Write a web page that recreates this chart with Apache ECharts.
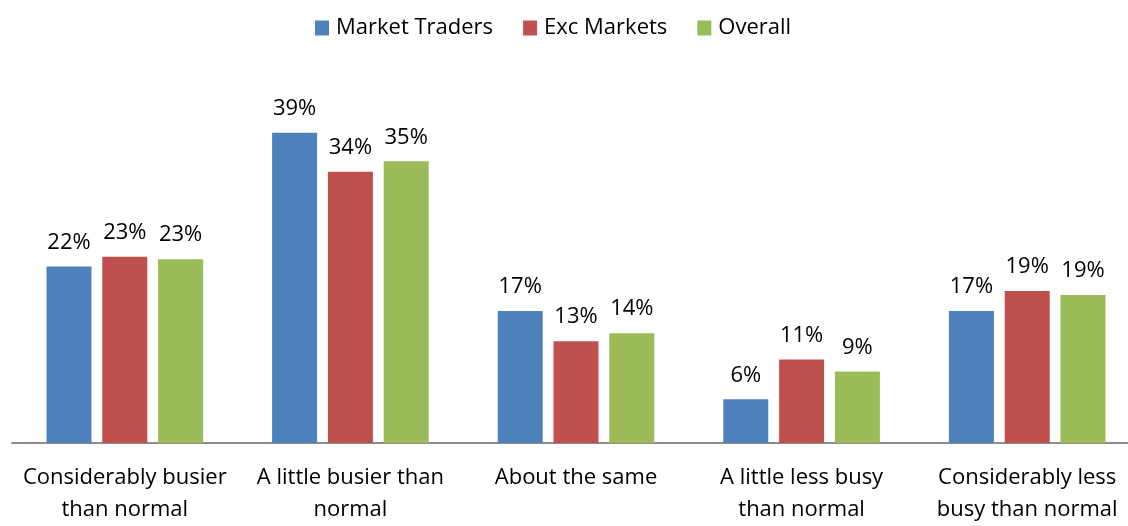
<!DOCTYPE html>
<html><head><meta charset="utf-8">
<script src="https://cdn.jsdelivr.net/npm/echarts@6/dist/echarts.min.js"></script>
<style>html,body{margin:0;padding:0;background:#fff;overflow:hidden;width:1128px;height:526px}#c{width:1140px;height:526px}</style>
</head><body><div id="c"></div>
<script>
const categories = ["Considerably busier\nthan normal", "A little busier than\nnormal", "About the same", "A little less busy\nthan normal", "Considerably less\nbusy than normal"];
const seriesNames = ["Market Traders", "Exc Markets", "Overall"];
const marketTraders = [22.2, 39.0, 16.6, 5.5, 16.6];
const excMarkets = [23.4, 34.1, 12.8, 10.5, 19.1];
const overall = [23.1, 35.4, 13.8, 9.0, 18.6];
const colors = ["#4F81BD", "#C0504D", "#9BBB59"];
const FONT = "Open Sans";

const chart = echarts.init(document.getElementById('c'));
const mk = (name, data, color) => ({
  name, type: 'bar', data, barWidth: 45, barGap: '24%',
  itemStyle: { color },
  label: { show: true, position: 'top', distance: 13, color: '#000', fontSize: 22, fontFamily: FONT,
    formatter: p => Math.round(p.value) + '%' }
});
chart.setOption({
  animation: false,
  legend: { top: 12, left: 310, itemWidth: 14, itemHeight: 15, itemGap: 30, icon: 'rect',
    textStyle: { fontSize: 22, fontFamily: FONT, color: '#000', padding: [0, 0, 0, 2] }, data: seriesNames },
  grid: { left: 12, right: 0, top: 85, bottom: 78 },
  xAxis: { type: 'category', data: categories,
    axisLine: { lineStyle: { color: '#8c8c8c', width: 2 } }, axisTick: { show: false },
    axisLabel: { fontSize: 22, fontFamily: FONT, color: '#000', lineHeight: 32, margin: 19, interval: 0 } },
  yAxis: { type: 'value', min: 0, max: 45, show: false, splitLine: { show: false } },
  series: [mk(seriesNames[0], marketTraders, colors[0]), mk(seriesNames[1], excMarkets, colors[1]), mk(seriesNames[2], overall, colors[2])]
});
</script></body></html>
